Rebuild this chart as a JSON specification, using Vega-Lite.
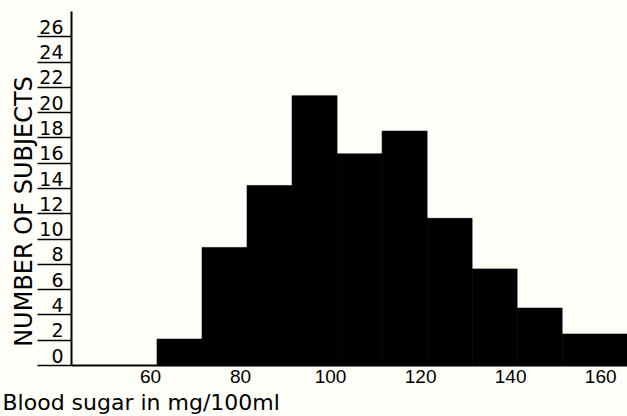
{
  "$schema": "https://vega.github.io/schema/vega-lite/v6.json",
  "width": 556,
  "height": 354,
  "autosize": "none",
  "padding": {"left": 71, "top": 11, "right": 0, "bottom": 51},
  "background": "#fffef8",
  "config": {"view": {"stroke": null}, "font": "DejaVu Sans"},
  "data": {"values": [
    {"lo": 60, "hi": 70, "n": 2.05},
    {"lo": 70, "hi": 80, "n": 9.3},
    {"lo": 80, "hi": 90, "n": 14.2},
    {"lo": 90, "hi": 100, "n": 21.3},
    {"lo": 100, "hi": 110, "n": 16.7},
    {"lo": 110, "hi": 120, "n": 18.5},
    {"lo": 120, "hi": 130, "n": 11.6},
    {"lo": 130, "hi": 140, "n": 7.6},
    {"lo": 140, "hi": 150, "n": 4.5},
    {"lo": 150, "hi": 170, "n": 2.45}
  ]},
  "mark": {"type": "rect", "color": "#000000", "stroke": "#000000", "strokeWidth": 0.6, "clip": true},
  "encoding": {
    "x": {
      "field": "lo", "type": "quantitative",
      "scale": {"domain": [40.9, 164.4], "nice": false, "zero": false},
      "axis": {
        "title": "Blood sugar in mg/100ml",
        "values": [60, 80, 100, 120, 140, 160],
        "grid": false, "ticks": false, "labelPadding": 2,
        "labelFont": "Liberation Sans", "labelFontSize": 19, "labelColor": "#000",
        "labelOffset": -7, "labelFlush": false,
        "domainColor": "#000", "domainWidth": 2,
        "titleFont": "DejaVu Sans", "titleFontSize": 22, "titleFontWeight": "normal",
        "titleColor": "#000", "titleAnchor": "start", "titleAlign": "left",
        "titleX": -69, "titleY": 44, "titleBaseline": "alphabetic"
      }
    },
    "x2": {"field": "hi"},
    "y": {
      "field": "n", "type": "quantitative",
      "scale": {"domain": [0, 28], "nice": false},
      "axis": {
        "title": "NUMBER OF SUBJECTS",
        "values": [0, 2, 4, 6, 8, 10, 12, 14, 16, 18, 20, 22, 24, 26],
        "grid": false, "tickSize": 34, "tickColor": "#000", "tickWidth": 1.5,
        "labelAlign": "right", "labelPadding": -26, "labelBaseline": "alphabetic",
        "labelOffset": -3, "labelFontSize": 19, "labelColor": "#000",
        "domainColor": "#000", "domainWidth": 2,
        "titleFontSize": 24, "titleFontWeight": "normal", "titleColor": "#000",
        "titleAngle": -90, "titleX": -47, "titleY": 200,
        "titleAlign": "center", "titleBaseline": "middle"
      }
    },
    "y2": {"datum": 0}
  }
}
